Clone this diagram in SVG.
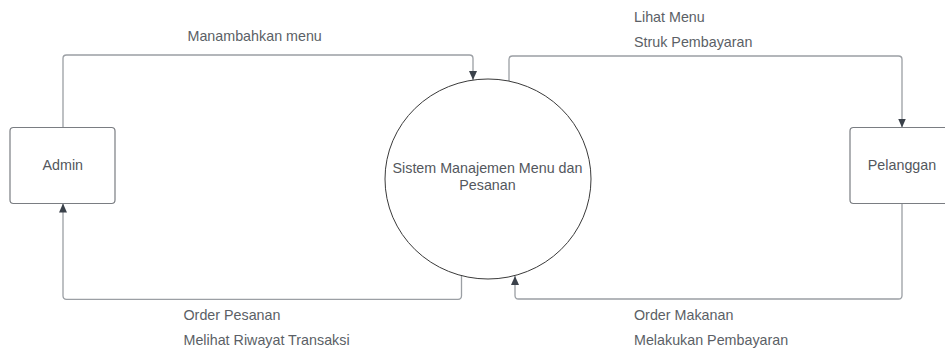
<svg xmlns="http://www.w3.org/2000/svg" width="945" height="350" viewBox="0 0 945 350">
<style>
.box{fill:#fff;stroke:#7a7d82;stroke-width:1.2}
.proc{fill:#fff;stroke:#3a3a3a;stroke-width:1}
.conn{fill:none;stroke:#9b9fa4;stroke-width:1.3}
.node{font-family:"Liberation Sans",Arial,sans-serif;font-size:14.3px;fill:#53575d;text-anchor:middle}
.lbl{font-family:"Liberation Sans",Arial,sans-serif;font-size:14.3px;fill:#5b5f66}
</style>
<defs>
<marker id="ah" markerWidth="10" markerHeight="10" refX="9" refY="5" orient="auto" markerUnits="userSpaceOnUse">
<path d="M0,1 L9,5 L0,9 Z" fill="#3a414a"/>
</marker>
</defs>
<rect width="945" height="350" fill="#fff"/>
<g id="connectors">
<path class="conn" d="M63,127.5 V58.5 Q63,55 66.5,55 H469.5 Q473,55 473,58.5 V80" marker-end="url(#ah)"/>
<path class="conn" d="M509,81 V59.5 Q509,56 512.5,56 H898.5 Q902,56 902,59.5 V127.5" marker-end="url(#ah)"/>
<path class="conn" d="M902,203.5 V295.5 Q902,299 898.5,299 H518.5 Q515,299 515,295.5 V276" marker-end="url(#ah)"/>
<path class="conn" d="M461.5,276 V295.8 Q461.5,299.3 458,299.3 H66.5 Q63,299.3 63,295.8 V203.5" marker-end="url(#ah)"/>
</g>
<g id="admin">
<rect class="box" x="10" y="127.5" width="105" height="76" rx="3.5"/>
<text class="node" x="62.8" y="170">Admin</text>
</g>
<g id="sistem">
<ellipse class="proc" cx="488" cy="179" rx="103" ry="100"/>
<text class="node" x="487.5" y="173">Sistem Manajemen Menu dan</text>
<text class="node" x="487.5" y="190">Pesanan</text>
</g>
<g id="pelanggan">
<rect class="box" x="850" y="127.5" width="105" height="76" rx="3.5"/>
<text class="node" x="902" y="170">Pelanggan</text>
</g>
<g id="labels">
<text class="lbl" x="187.5" y="41">Manambahkan menu</text>
<text class="lbl" x="634" y="21.5">Lihat Menu</text>
<text class="lbl" x="634" y="46.5">Struk Pembayaran</text>
<text class="lbl" x="634" y="320">Order Makanan</text>
<text class="lbl" x="634" y="345">Melakukan Pembayaran</text>
<text class="lbl" x="183.5" y="320">Order Pesanan</text>
<text class="lbl" x="183.5" y="345">Melihat Riwayat Transaksi</text>
</g>
</svg>
